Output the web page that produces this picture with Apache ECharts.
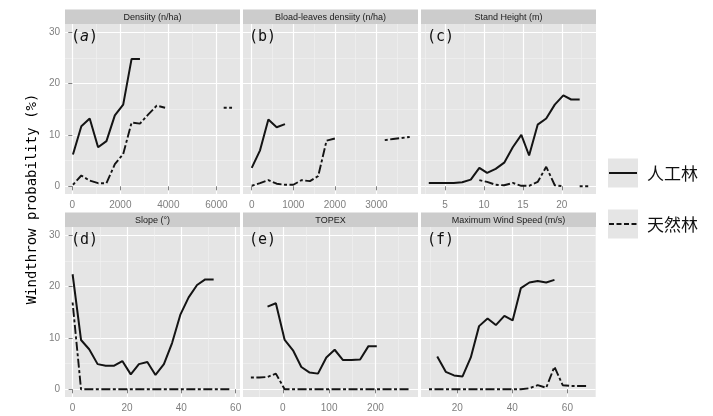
<!DOCTYPE html>
<html>
<head>
<meta charset="utf-8">
<script src="https://cdn.jsdelivr.net/npm/echarts@6/dist/echarts.min.js"></script>
<style>
  html, body { margin: 0; padding: 0; background: #fff; }
  #chart { width: 713px; height: 416px; }
</style>
</head>
<body>
<div id="chart"></div>
<script>
// 人工林 = 实线, 天然林 = 虚线; null = 缺失
// (a) Densiity
const densityX = [29, 378, 726, 1075, 1423, 1772, 2120, 2469, 2817, 3166, 3514, 3863, 4211, 4560, 4908, 5257, 5605, 5954, 6302, 6650];
const densityPlant = [6.2, 11.7, 13.2, 7.6, 8.8, 13.8, 15.9, 24.8, 24.8, null, null, null, null, null, null, null, null, null, null, null];
const densityNatural = [0.3, 2.1, 1.1, 0.6, 0.6, 4.3, 6.3, 12.4, 12.2, 14.0, 15.7, 15.3, null, null, null, null, null, null, 15.3, 15.3];
const densityTicks = [0, 2000, 4000, 6000];
const densityMinor = [1000, 3000, 5000];

// (b) Bload-leaves densiity
const broadX = [0, 200, 400, 600, 800, 1000, 1200, 1400, 1600, 1800, 2000, 2200, 2400, 2600, 2800, 3000, 3200, 3400, 3600, 3800];
const broadPlant = [3.6, 7.0, 13.0, 11.5, 12.1, null, null, null, null, null, null, null, null, null, null, null, null, null, null, null];
const broadNatural = [0.1, 0.6, 1.2, 0.5, 0.3, 0.3, 1.2, 1.0, 2.0, 8.9, 9.3, null, null, null, null, null, 9.0, 9.2, 9.4, 9.6];
const broadTicks = [0, 1000, 2000, 3000];
const broadMinor = [500, 1500, 2500, 3500];

// (c) Stand Height
const heightX = [2.9, 4.0, 5.1, 6.1, 7.2, 8.3, 9.4, 10.4, 11.5, 12.6, 13.7, 14.8, 15.8, 16.9, 18.0, 19.1, 20.2, 21.2, 22.3, 23.4];
const heightPlant = [0.65, 0.65, 0.65, 0.65, 0.8, 1.3, 3.6, 2.6, 3.4, 4.6, 7.6, 10.0, 6.0, 12.0, 13.2, 15.9, 17.7, 16.9, 16.9, null];
const heightNatural = [null, null, null, null, null, null, 1.2, 0.85, 0.3, 0.2, 0.65, 0.1, 0.1, 0.85, 3.8, 0.2, 0, null, 0, 0];
const heightTicks = [5, 10, 15, 20];
const heightMinor = [2.5, 7.5, 12.5, 17.5, 22.5];

// (d) Slope
const slopeX = [0, 3.1, 6.1, 9.2, 12.2, 15.3, 18.3, 21.4, 24.4, 27.5, 30.5, 33.6, 36.6, 39.7, 42.7, 45.8, 48.8, 51.9, 54.9, 58];
const slopePlant = [22.4, 9.6, 7.8, 4.9, 4.6, 4.6, 5.5, 2.9, 4.9, 5.3, 2.8, 4.9, 9.0, 14.6, 17.9, 20.3, 21.4, 21.4, null, null];
const slopeNatural = [16.9, 0, 0, 0, 0, 0, 0, 0, 0, 0, 0, 0, 0, 0, 0, 0, 0, 0, 0, 0];
const slopeTicks = [0, 20, 40, 60];
const slopeMinor = [10, 30, 50];

// (e) TOPEX
const topexX = [-69, -51, -33, -15, 4, 22, 40, 58, 76, 94, 112, 130, 148, 167, 185, 203, 221, 239, 257, 275];
const topexPlant = [null, null, 16.1, 16.75, 9.6, 7.6, 4.35, 3.25, 3.05, 6.2, 7.7, 5.7, 5.7, 5.8, 8.4, 8.4, null, null, null, null];
const topexNatural = [2.3, 2.3, 2.4, 3.05, 0, 0, 0, 0, 0, 0, 0, 0, 0, 0, 0, 0, 0, 0, 0, 0];
const topexTicks = [0, 100, 200];
const topexMinor = [-50, 50, 150, 250];

// (f) Maximum Wind Speed
const windX = [9.7, 12.7, 15.8, 18.8, 21.9, 24.9, 27.9, 31.0, 34.0, 37.1, 40.1, 43.1, 46.2, 49.2, 52.3, 55.3, 58.3, 61.4, 64.4, 67.5];
const windPlant = [null, 6.4, 3.4, 2.7, 2.5, 6.2, 12.3, 13.8, 12.5, 14.3, 13.4, 19.7, 20.8, 21.1, 20.8, 21.3, null, null, null, null];
const windNatural = [0, 0, 0, 0, 0, 0, 0, 0, 0, 0, 0, 0, 0.2, 0.8, 0.3, 4.4, 0.8, 0.65, 0.65, 0.65];
const windTicks = [20, 40, 60];
const windMinor = [10, 30, 50, 70];

const yTicks = [0, 10, 20, 30];
const yMinor = [5, 15, 25];
const seriesNames = ['人工林', '天然林'];

// 面板布局
const panels = [
  { title: 'Densiity (n/ha)', tag: 'a', x: densityX, plant: densityPlant, natural: densityNatural, min: -302, max: 6981, ticks: densityTicks, minor: densityMinor },
  { title: 'Bload-leaves densiity (n/ha)', tag: 'b', x: broadX, plant: broadPlant, natural: broadNatural, min: -210, max: 4000, ticks: broadTicks, minor: broadMinor },
  { title: 'Stand Height (m)', tag: 'c', x: heightX, plant: heightPlant, natural: heightNatural, min: 1.9, max: 24.4, ticks: heightTicks, minor: heightMinor },
  { title: 'Slope (°)', tag: 'd', x: slopeX, plant: slopePlant, natural: slopeNatural, min: -2.8, max: 61.6, ticks: slopeTicks, minor: slopeMinor },
  { title: 'TOPEX', tag: 'e', x: topexX, plant: topexPlant, natural: topexNatural, min: -86, max: 292, ticks: topexTicks, minor: topexMinor },
  { title: 'Maximum Wind Speed (m/s)', tag: 'f', x: windX, plant: windPlant, natural: windNatural, min: 6.8, max: 70.4, ticks: windTicks, minor: windMinor }
];

const cols = [65, 243, 421];
const rows = [24, 227];
const panelW = 175;
const panelH = 170;
const stripH = 14.5;
const yMin = -1.5, yMax = 31.6;

const tickColor = '#7F7F7F';
const labelFont = '"Liberation Sans", Arial, sans-serif';
const monoFont = '"DejaVu Sans Mono", monospace';

const grids = [], xAxes = [], yAxes = [], series = [], graphics = [];

panels.forEach((p, i) => {
  const col = i % 3, row = Math.floor(i / 3);
  const left = cols[col], top = rows[row];
  grids.push({
    left: left, top: top, width: panelW, height: panelH,
    show: true, backgroundColor: '#E5E5E5', borderWidth: 0
  });

  // 主刻度 + 主网格线
  xAxes.push({
    type: 'value', gridIndex: i, min: p.min, max: p.max,
    axisLine: { show: false },
    axisTick: { show: true, customValues: p.ticks, length: 4, lineStyle: { color: tickColor, width: 1 } },
    axisLabel: { customValues: p.ticks, color: tickColor, fontSize: 10, fontFamily: labelFont, margin: 6, formatter: v => String(v) },
    splitLine: { show: true, lineStyle: { color: '#FFFFFF', width: 1.2 } }
  });
  // 次网格线
  xAxes.push({
    type: 'value', gridIndex: i, min: p.min, max: p.max,
    axisLine: { show: false },
    axisTick: { show: false, customValues: p.minor },
    axisLabel: { show: false, customValues: p.minor },
    splitLine: { show: true, lineStyle: { color: '#F2F2F2', width: 0.6 } }
  });

  yAxes.push({
    type: 'value', gridIndex: i, min: yMin, max: yMax,
    axisLine: { show: false },
    axisTick: { show: col === 0, customValues: yTicks, length: 4, lineStyle: { color: tickColor, width: 1 } },
    axisLabel: { show: col === 0, customValues: yTicks, color: tickColor, fontSize: 10, fontFamily: labelFont, margin: 5 },
    splitLine: { show: true, lineStyle: { color: '#FFFFFF', width: 1.2 } }
  });
  yAxes.push({
    type: 'value', gridIndex: i, min: yMin, max: yMax,
    axisLine: { show: false },
    axisTick: { show: false, customValues: yMinor },
    axisLabel: { show: false, customValues: yMinor },
    splitLine: { show: true, lineStyle: { color: '#F2F2F2', width: 0.6 } }
  });

  series.push({
    name: seriesNames[0], type: 'line', xAxisIndex: 2 * i, yAxisIndex: 2 * i,
    data: p.x.map((v, k) => [v, p.plant[k]]),
    symbol: 'none', connectNulls: false, silent: true, z: 3,
    lineStyle: { color: '#141414', width: 2, type: 'solid' }
  });
  series.push({
    name: seriesNames[1], type: 'line', xAxisIndex: 2 * i, yAxisIndex: 2 * i,
    data: p.x.map((v, k) => [v, p.natural[k]]),
    symbol: 'none', connectNulls: false, silent: true, z: 3,
    lineStyle: { color: '#141414', width: 1.9, type: [3, 2.5, 9, 2.5] }
  });

  // 分面标题条
  graphics.push({
    type: 'rect', silent: true,
    shape: { x: left, y: top - stripH, width: panelW, height: stripH },
    style: { fill: '#CCCCCC' }
  });
  graphics.push({
    type: 'text', silent: true, x: left + panelW / 2, y: top - stripH / 2 + 0.5,
    style: { text: p.title, fill: '#1A1A1A', fontSize: 9, fontFamily: labelFont, align: 'center', verticalAlign: 'middle' }
  });
  // (a)..(f)
  graphics.push({
    type: 'text', silent: true, z: 10, x: left + 6, y: top + 13,
    style: {
      text: p.tag === 'a' ? '({i|a})' : '(' + p.tag + ')',
      fill: '#111', fontSize: 15, fontFamily: monoFont, align: 'left', verticalAlign: 'middle',
      rich: { i: { fontStyle: 'italic', fontSize: 15, fontFamily: monoFont, fill: '#111' } }
    }
  });
});

// y 轴标题
graphics.push({
  type: 'text', silent: true, x: 32, y: 199, rotation: Math.PI / 2,
  style: { text: 'Windthrow probability (%)', fill: '#000', fontSize: 14, fontFamily: monoFont, align: 'center', verticalAlign: 'middle' }
});

// 图例
const legendKeys = [
  { name: seriesNames[0], y: 158.5, dash: 'solid' },
  { name: seriesNames[1], y: 209.5, dash: [5, 2.5] }
];
legendKeys.forEach(k => {
  graphics.push({ type: 'rect', silent: true, shape: { x: 608, y: k.y, width: 30, height: 29 }, style: { fill: '#E5E5E5' } });
  graphics.push({
    type: 'line', silent: true,
    shape: { x1: 609, y1: k.y + 14.5, x2: 637, y2: k.y + 14.5 },
    style: { stroke: '#141414', lineWidth: 2, lineDash: k.dash === 'solid' ? null : k.dash }
  });
  graphics.push({
    type: 'text', silent: true, x: 647, y: k.y + 15.5,
    style: { text: k.name, fill: '#111', fontSize: 17, fontFamily: '"Noto Sans CJK SC", sans-serif', align: 'left', verticalAlign: 'middle' }
  });
});

const chart = echarts.init(document.getElementById('chart'), null, { renderer: 'canvas' });
chart.setOption({
  animation: false,
  backgroundColor: '#FFFFFF',
  grid: grids,
  xAxis: xAxes,
  yAxis: yAxes,
  series: series,
  graphic: graphics
});
</script>
</body>
</html>
